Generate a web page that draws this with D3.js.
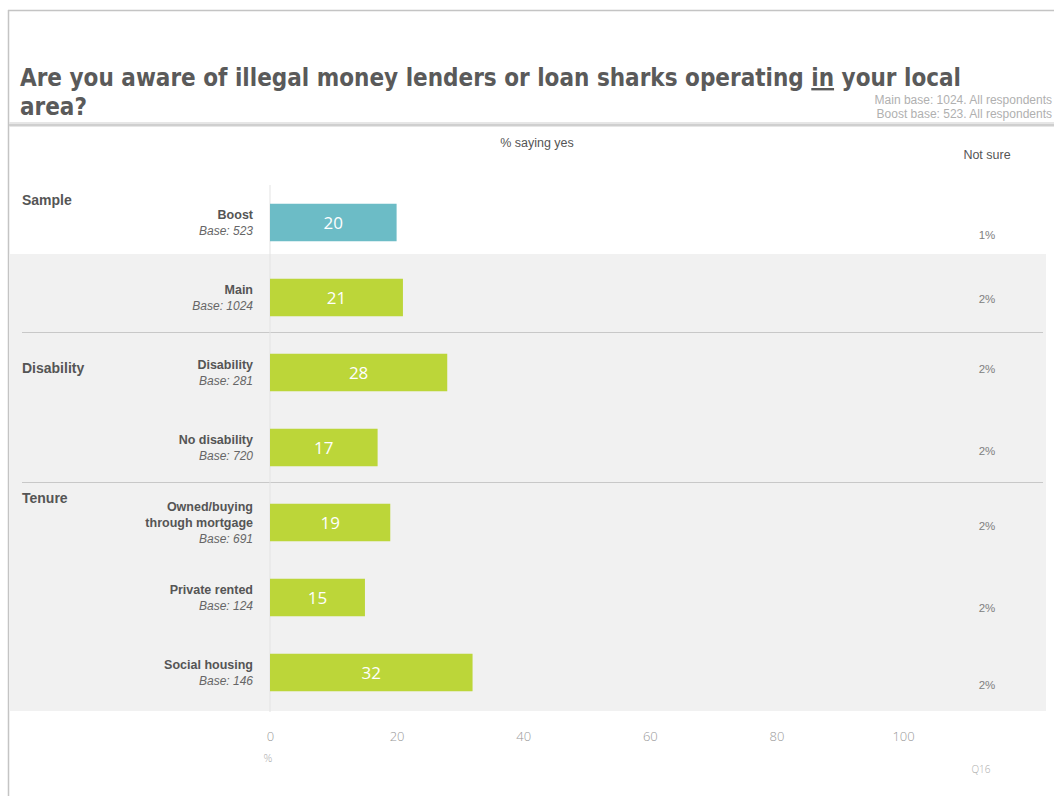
<!DOCTYPE html>
<html><head><meta charset="utf-8">
<script src="https://cdn.jsdelivr.net/npm/d3@7"></script>
<style>body{margin:0;background:#fff;}svg{display:block;}</style>
</head><body>
<svg id="c" width="1054" height="796"></svg>
<script>
const categories = ["Boost","Main","Disability","No disability","Owned/buying\nthrough mortgage","Private rented","Social housing"];
const bases = [523,1024,281,720,691,124,146];
const groups = ["Sample","Sample","Disability","Disability","Tenure","Tenure","Tenure"];
const yesValues = [20,21,28,17,19,15,32];
const notSure = ["1%","2%","2%","2%","2%","2%","2%"];
const seriesColor = ["boost","main","main","main","main","main","main"];
const ticks = [0,20,40,60,80,100];

const svg = d3.select("#c");
const x = d3.scaleLinear().domain([0,100]).range([270,903]);
const y = d3.scaleBand().domain(d3.range(categories.length)).range([185,710]).paddingInner(0.5).paddingOuter(0.25);
const color = d3.scaleOrdinal().domain(["boost","main"]).range(["#6cbcc6","#bcd639"]);
const nsOffset = [12,1,-4,3,3,10,12];

// frame
svg.append("line").attr("x1",8).attr("x2",1054).attr("y1",10.5).attr("y2",10.5).attr("stroke","#c4c4c4").attr("stroke-width",1.5);
svg.append("line").attr("x1",8.5).attr("x2",8.5).attr("y1",10).attr("y2",796).attr("stroke","#c4c4c4").attr("stroke-width",1.5);

// title
const tf = "'DejaVu Sans Condensed','DejaVu Sans',sans-serif";
const title = svg.append("text").attr("x",20).attr("y",86).attr("fill","#5a5a5a")
  .style("font-family",tf).style("font-size","24px").style("font-weight","bold");
title.append("tspan").text("Are you aware of illegal money lenders or loan sharks operating ");
title.append("tspan").text("in").attr("text-decoration","underline");
title.append("tspan").text(" your local");
svg.append("text").attr("x",20).attr("y",115).attr("fill","#5a5a5a")
  .style("font-family",tf).style("font-size","24px").style("font-weight","bold").text("area?");

["Main base: 1024. All respondents","Boost base: 523. All respondents"].forEach((t,i)=>{
  svg.append("text").attr("x",1052).attr("y",104+i*14).attr("text-anchor","end").attr("fill","#b0b0b0")
   .style("font-family","'Liberation Sans',Arial,sans-serif").style("font-size","12px").text(t);
});

// header separator
svg.append("rect").attr("x",9).attr("y",122).attr("width",1045).attr("height",5).attr("fill","#e6e6e6");
svg.append("line").attr("x1",9).attr("x2",1054).attr("y1",125).attr("y2",125).attr("stroke","#cfcfcf").attr("stroke-width",2);

svg.append("text").attr("x",537).attr("y",147).attr("text-anchor","middle").attr("fill","#555")
  .style("font-family","'Liberation Sans',Arial,sans-serif").style("font-size","12.5px").text("% saying yes");
svg.append("text").attr("x",987).attr("y",159).attr("text-anchor","middle").attr("fill","#555")
  .style("font-family","'Liberation Sans',Arial,sans-serif").style("font-size","12.5px").text("Not sure");

// gray background
svg.append("rect").attr("x",9).attr("y",254).attr("width",1037).attr("height",457).attr("fill","#f1f1f1");

// separators between groups
const sepIdx = d3.range(1,categories.length).filter(i=>groups[i]!==groups[i-1]);
sepIdx.forEach(i=>{
  const yy = (y(i-1)+y.bandwidth()+y(i))/2 - 2.5;
  svg.append("line").attr("x1",22).attr("x2",1043).attr("y1",yy).attr("y2",yy).attr("stroke","#c8c8c8").attr("stroke-width",1);
});

// axis vertical line
svg.append("line").attr("x1",x(0)).attr("x2",x(0)).attr("y1",185).attr("y2",712).attr("stroke","#e3e3e3");

// bars
const g = svg.append("g");
g.selectAll("rect.bar").data(yesValues).join("rect").attr("class","bar")
  .attr("x",x(0)).attr("y",(d,i)=>y(i)).attr("width",d=>x(d)-x(0)).attr("height",y.bandwidth())
  .attr("fill",(d,i)=>color(seriesColor[i]));
g.selectAll("text.val").data(yesValues).join("text").attr("class","val")
  .attr("x",d=>(x(0)+x(d))/2).attr("y",(d,i)=>y(i)+y.bandwidth()/2+6).attr("text-anchor","middle")
  .attr("fill","#fff").style("font-family","'Open Sans',sans-serif").style("font-size","17px").text(d=>d);

// category labels
categories.forEach((c,i)=>{
  const lines = c.split("\n");
  const cy = y(i)+y.bandwidth()/2;
  const total = lines.length+1;
  const top = cy - (total*15)/2 + 11;
  const t = svg.append("text").attr("text-anchor","end").attr("fill","#555")
    .style("font-family","'Liberation Sans',Arial,sans-serif").style("font-size","12.5px").style("font-weight","bold");
  lines.forEach((l,k)=>t.append("tspan").attr("x",253).attr("y",top+k*16).text(l));
  svg.append("text").attr("x",253).attr("y",top+lines.length*16).attr("text-anchor","end").attr("fill","#666")
    .style("font-family","'Liberation Sans',Arial,sans-serif").style("font-size","12px").style("font-style","italic")
    .text("Base: "+bases[i]);
});

// group labels
const groupStart = d3.range(categories.length).filter(i=>i===0||groups[i]!==groups[i-1]);
const gOffsets = {"Sample":-18,"Disability":0,"Tenure":-20};
groupStart.forEach(i=>{
  svg.append("text").attr("x",22).attr("y",y(i)+y.bandwidth()/2+ (gOffsets[groups[i]]) ).attr("fill","#555")
    .style("font-family","'Liberation Sans',Arial,sans-serif").style("font-size","14px").style("font-weight","bold").text(groups[i]);
});

// not sure
notSure.forEach((v,i)=>{
  svg.append("text").attr("x",987).attr("y",y(i)+y.bandwidth()/2+nsOffset[i]+4).attr("text-anchor","middle").attr("fill","#808080")
    .style("font-family","'Liberation Sans',Arial,sans-serif").style("font-size","11.5px").text(v);
});

// axis
const axis = d3.axisBottom(x).tickValues(ticks).tickSize(0).tickPadding(0);
const ax = svg.append("g").attr("transform","translate(0,741)").call(axis);
ax.select(".domain").remove();
ax.selectAll("text").attr("fill","#999").attr("dy",0).style("font-family","'Open Sans',sans-serif").style("font-size","13px").style("font-weight","300");
svg.append("text").attr("x",268).attr("y",762).attr("text-anchor","middle").attr("fill","#aaa")
  .style("font-family","'Open Sans',sans-serif").style("font-size","11px").style("font-weight","300").text("%");
svg.append("text").attr("x",981).attr("y",773).attr("text-anchor","middle").attr("fill","#aaa")
  .style("font-family","'Open Sans',sans-serif").style("font-size","10px").style("font-weight","300").text("Q16");
</script>
</body></html>
